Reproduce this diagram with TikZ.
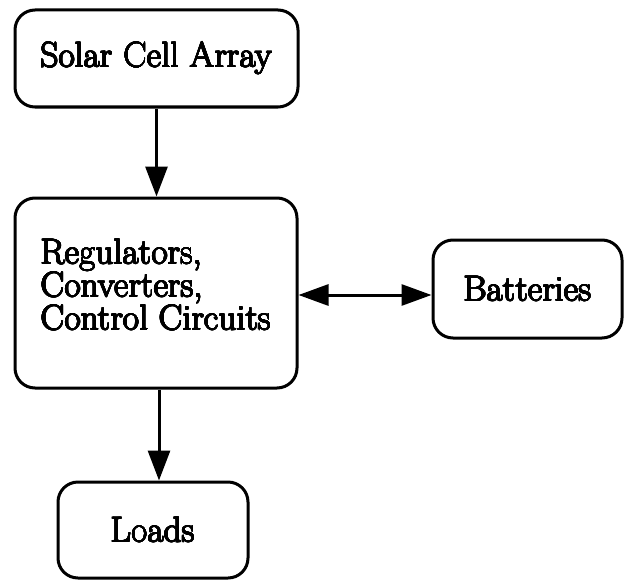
\documentclass[tikz,border=0pt]{standalone}
\usepackage[copies]{contour}
\usetikzlibrary{arrows.meta}
\contourlength{0.45pt}
\contournumber{16}
\newcommand\hv[1]{\contour{black}{#1}}
\begin{document}
\begin{tikzpicture}[x=1pt,y=-1pt,
  txt/.style={inner sep=0pt, font=\fontsize{35.5}{33}\selectfont, align=left},
  box/.style={draw=black, line width=3pt, rounded corners=20pt, txt},
  arr/.style={line width=3pt, -{Triangle[length=30pt,width=22pt]}},
  darr/.style={line width=3pt, {Triangle[length=30pt,width=21pt]}-{Triangle[length=30pt,width=21pt]}}]
\useasboundingbox (0,0) rectangle (628,583);
\node[box, minimum width=283pt, minimum height=97pt] (solar) at (156.5,58.5) {\hv{Solar Cell Array}};
\node[box, minimum width=282pt, minimum height=190pt] (reg) at (156,293) {};
\node[txt] (regtext) at ([yshift=8pt]reg.center) {\hv{Regulators,}\\\hv{Converters,}\\\hv{Control Circuits}};
\node[box, minimum width=189pt, minimum height=98pt] (batt) at (527.5,289) {\hv{Batteries}};
\node[box, minimum width=190pt, minimum height=96pt] (loads) at (153,530) {\hv{Loads}};
\draw[arr] (solar.south) -- (solar.south |- reg.north);
\draw[arr] ([xshift=3pt]reg.south) -- ([xshift=3pt]reg.south |- loads.north);
\draw[darr] ([yshift=-2pt]reg.east) -- ([yshift=-2pt]reg.east -| batt.west);
\end{tikzpicture}
\end{document}
